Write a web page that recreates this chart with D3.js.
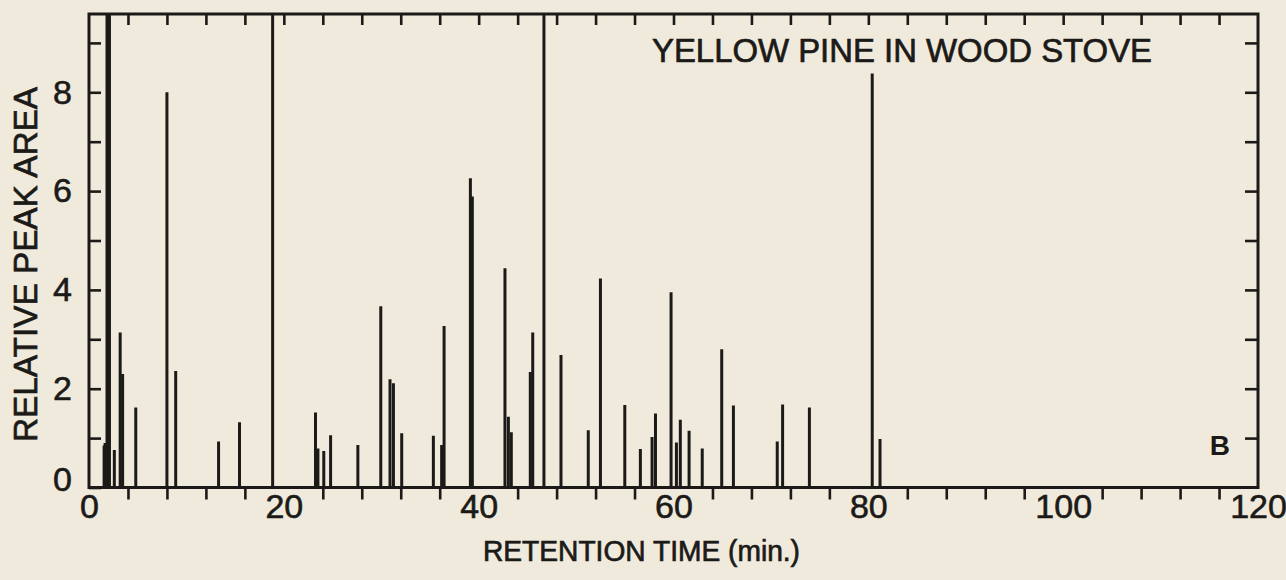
<!DOCTYPE html>
<html>
<head>
<meta charset="utf-8">
<script src="https://cdn.jsdelivr.net/npm/d3@7"></script>
<style>
  html, body { margin: 0; padding: 0; background: #efeadb; }
  svg { display: block; }
  text { font-family: "Liberation Sans", Arial, Helvetica, sans-serif; fill: #1c1a18; }
</style>
</head>
<body>
<svg id="chart" width="1286" height="580"></svg>
<script>
// Retention times (min) of the chromatogram peaks
const retentionTimes = [
  1.55, 1.65, 1.85, 2.1, 2.6, 3.2, 3.45, 4.8, 8.0, 8.9,
  13.3, 15.45, 18.85, 23.25, 23.5, 24.1, 24.8, 27.6, 29.95, 30.9,
  31.25, 32.1, 35.35, 36.2, 36.45, 39.15, 39.35, 42.7, 43.05, 43.35,
  45.3, 45.55, 46.7, 48.45, 51.25, 52.5, 55.0, 56.6, 57.8, 58.15,
  59.75, 60.3, 60.7, 61.6, 62.95, 64.95, 66.15, 70.65, 71.2, 73.95,
  80.4, 81.2
];
// Relative peak areas (peaks above the top of the frame are off-scale)
const peakAreas = [
  0.85, 0.9, 12, 12, 0.76, 3.14, 2.30, 1.62, 8.0, 2.36,
  0.93, 1.32, 12, 1.52, 0.79, 0.74, 1.06, 0.86, 3.67, 2.19,
  2.11, 1.10, 1.05, 0.86, 3.27, 6.26, 5.89, 4.44, 1.43, 1.12,
  2.34, 3.14, 12, 2.68, 1.16, 4.23, 1.67, 0.78, 1.02, 1.50,
  3.95, 0.91, 1.37, 1.15, 0.79, 2.80, 1.66, 0.93, 1.68, 1.62,
  8.38, 0.98
];
const xTickValues = d3.range(0, 121, 4);
const xTickLabels = [0, 20, 40, 60, 80, 100, 120];
const yTickValues = [1, 2, 3, 4, 5, 6, 7, 8, 9];
const yTickLabels = [0, 2, 4, 6, 8];
const chartTitle = "YELLOW PINE IN WOOD STOVE";
const panelLabel = "B";
const xTitle = "RETENTION TIME (min.)";
const yTitle = "RELATIVE PEAK AREA";

(function () {
const svg = d3.select("#chart");
const pL = 89, pR = 1258, pT = 14, pB = 487.5;
const x = d3.scaleLinear().domain([0, 120]).range([pL, pR]);
const y = d3.scaleLinear().domain([0, 9.585]).range([pB, pT]);
const ink = "#1c1a18";

svg.append("rect").attr("width", 1286).attr("height", 580).attr("fill", "#efeadb");

svg.append("defs").append("clipPath").attr("id", "plotclip")
  .append("rect").attr("x", pL).attr("y", pT).attr("width", pR - pL).attr("height", pB - pT);

const peaks = retentionTimes.map((t, i) => ({ t, v: peakAreas[i] }));
svg.append("g").attr("clip-path", "url(#plotclip)")
  .selectAll("line").data(peaks).join("line")
  .attr("x1", d => x(d.t)).attr("x2", d => x(d.t))
  .attr("y1", y(0)).attr("y2", d => y(d.v))
  .attr("stroke", ink).attr("stroke-width", 3);

function styleAxis(g) {
  g.select(".domain").remove();
  g.selectAll(".tick line").attr("stroke", ink).attr("stroke-width", 2.6);
  g.selectAll("text").style("font-size", "34px").attr("fill", ink)
    .style("stroke", ink).style("stroke-width", 0.6);
}

// bottom axis: outward ticks, labelled positions carry a number instead of a tick
svg.append("g").attr("transform", `translate(0,${pB})`)
  .call(d3.axisBottom(x).tickValues(xTickValues).tickSize(12)
    .tickFormat(d => xTickLabels.includes(d) ? d : ""))
  .call(styleAxis)
  .call(g => g.selectAll(".tick").filter(d => xTickLabels.includes(d)).select("line").remove())
  .call(g => g.selectAll("text").attr("y", 6));

// top axis (ticks inward)
svg.append("g").attr("transform", `translate(0,${pT})`)
  .call(d3.axisTop(x).tickValues(xTickValues.filter(v => v > 0 && v < 120)).tickSize(-11).tickFormat(""))
  .call(styleAxis);

// left axis (ticks inward)
svg.append("g").attr("transform", `translate(${pL},0)`)
  .call(d3.axisLeft(y).tickValues([0].concat(yTickValues)).tickSize(-12).tickPadding(17)
    .tickFormat(d => yTickLabels.includes(d) ? d : ""))
  .call(styleAxis)
  .call(g => g.selectAll(".tick").filter(d => d === 0).select("text").attr("y", -8));

// right axis (ticks inward)
svg.append("g").attr("transform", `translate(${pR},0)`)
  .call(d3.axisRight(y).tickValues(yTickValues).tickSize(-13).tickFormat(""))
  .call(styleAxis);

// frame
svg.append("rect").attr("x", pL).attr("y", pT).attr("width", pR - pL).attr("height", pB - pT)
  .attr("fill", "none").attr("stroke", ink).attr("stroke-width", 3);

svg.append("text").attr("x", 1152).attr("y", 62).attr("text-anchor", "end")
  .style("font-size", "33px").style("stroke", ink).style("stroke-width", 0.7)
  .attr("textLength", 500).attr("lengthAdjust", "spacingAndGlyphs")
  .text(chartTitle);

svg.append("text").attr("x", 1230).attr("y", 455).attr("text-anchor", "end")
  .style("font-size", "28px").style("font-weight", "bold")
  .text(panelLabel);

svg.append("text").attr("x", (483 + 800) / 2).attr("y", 561).attr("text-anchor", "middle")
  .style("font-size", "29px").style("stroke", ink).style("stroke-width", 0.7)
  .attr("textLength", 317).attr("lengthAdjust", "spacingAndGlyphs")
  .text(xTitle);

svg.append("text").attr("transform", "translate(37,264.5) rotate(-90)").attr("text-anchor", "middle")
  .style("font-size", "33px").style("stroke", ink).style("stroke-width", 0.7)
  .attr("textLength", 355).attr("lengthAdjust", "spacingAndGlyphs")
  .text(yTitle);
})();
</script>
</body>
</html>
